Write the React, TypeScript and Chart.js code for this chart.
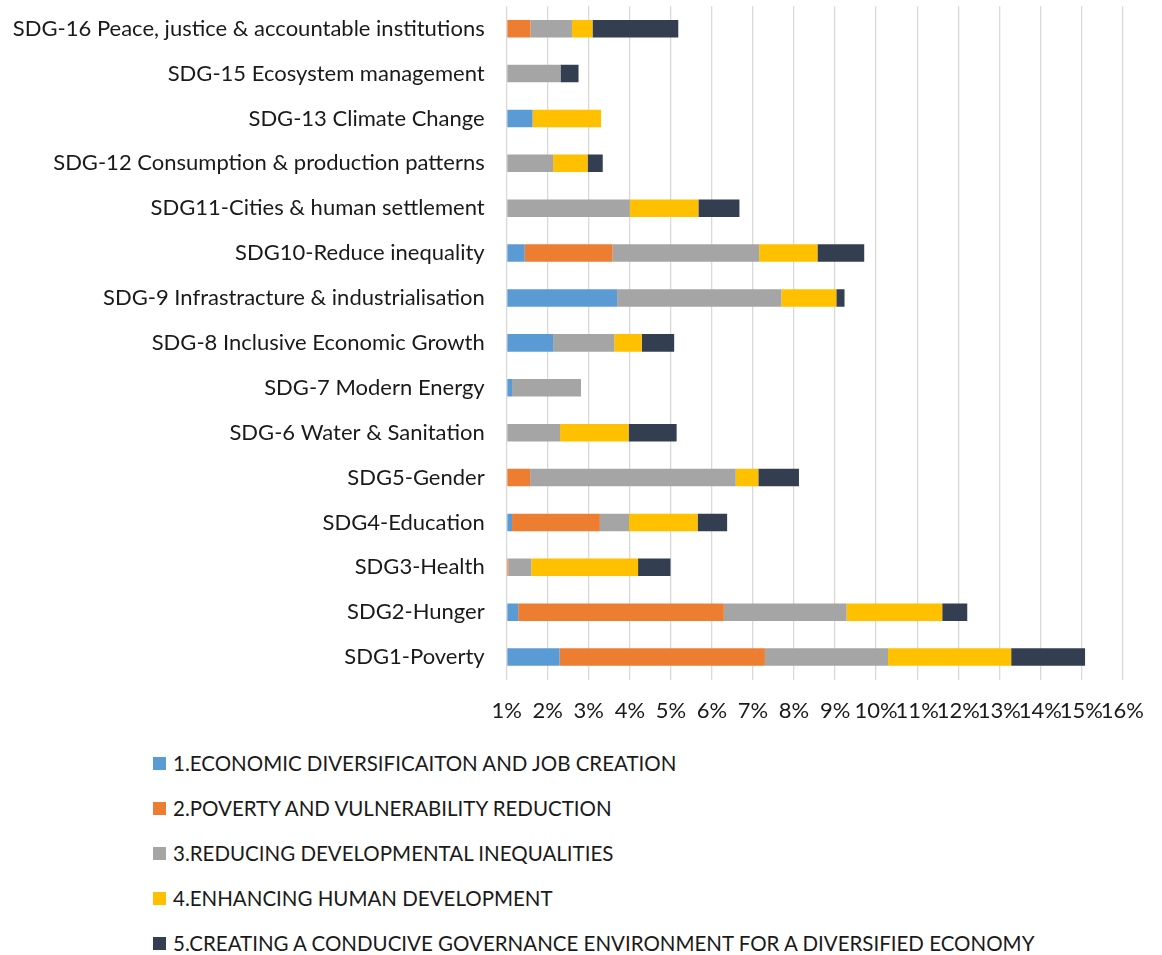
import React, { useEffect, useRef } from 'react';
import { Chart, registerables } from 'chart.js';

Chart.register(...registerables);

const categories = [
  'SDG-16 Peace, justice & accountable institutions',
  'SDG-15 Ecosystem management',
  'SDG-13 Climate Change',
  'SDG-12 Consumption & production patterns',
  'SDG11-Cities & human settlement',
  'SDG10-Reduce inequality',
  'SDG-9 Infrastracture & industrialisation',
  'SDG-8 Inclusive Economic Growth',
  'SDG-7 Modern Energy',
  'SDG-6 Water & Sanitation',
  'SDG5-Gender',
  'SDG4-Education',
  'SDG3-Health',
  'SDG2-Hunger',
  'SDG1-Poverty',
];

const seriesNames = [
  '1.ECONOMIC DIVERSIFICAITON AND JOB CREATION',
  '2.POVERTY AND VULNERABILITY REDUCTION',
  '3.REDUCING DEVELOPMENTAL INEQUALITIES',
  '4.ENHANCING HUMAN DEVELOPMENT',
  '5.CREATING A CONDUCIVE GOVERNANCE ENVIRONMENT FOR A DIVERSIFIED ECONOMY',
];

const economicDiversification = [0, 0, 0.63, 0, 0, 0.44, 2.69, 1.13, 0.13, 0, 0, 0.13, 0, 0.28, 1.29];
const povertyReduction = [0.58, 0, 0, 0, 0, 2.14, 0, 0, 0, 0, 0.57, 2.14, 0.04, 5.01, 5.0];
const reducingInequalities = [1.01, 1.31, 0, 1.13, 3.0, 3.57, 4.0, 1.49, 1.68, 1.3, 5.01, 0.71, 0.56, 2.99, 3.0];
const humanDevelopment = [0.5, 0, 1.67, 0.84, 1.67, 1.42, 1.34, 0.67, 0, 1.67, 0.55, 1.67, 2.6, 2.33, 3.0];
const governanceEnvironment = [2.09, 0.44, 0, 0.37, 1.0, 1.14, 0.2, 0.79, 0, 1.17, 0.99, 0.72, 0.79, 0.61, 1.8];

const tickLabels = ['1%', '2%', '3%', '4%', '5%', '6%', '7%', '8%', '9%', '10%', '11%', '12%', '13%', '14%', '15%', '16%'];

const seriesColors = ['#5B9BD5', '#ED7D31', '#A5A5A5', '#FFC000', '#333F50'];

const FONT = 'Lato';
const TEXT = '#1a1a1a';

export default function App() {
  const ref = useRef<HTMLCanvasElement>(null);

  useEffect(() => {
    const values = [
      economicDiversification,
      povertyReduction,
      reducingInequalities,
      humanDevelopment,
      governanceEnvironment,
    ];
    const chart = new Chart(ref.current as HTMLCanvasElement, {
      type: 'bar',
      data: {
        labels: categories,
        datasets: values.map((d, i) => ({
          label: seriesNames[i],
          data: d,
          backgroundColor: seriesColors[i],
          borderWidth: 0,
          categoryPercentage: 1,
          barPercentage: 0.39,
        })),
      },
      options: {
        indexAxis: 'y',
        responsive: false,
        animation: false,
        devicePixelRatio: 1,
        layout: { padding: { top: 6.25, right: 30, left: 0, bottom: 0 } },
        plugins: {
          legend: { display: false },
          tooltip: { enabled: false },
        },
        scales: {
          x: {
            stacked: true,
            min: 0,
            max: 15,
            grid: { color: '#D9D9D9', lineWidth: 1.3, drawTicks: false },
            border: { display: false },
            ticks: {
              stepSize: 1,
              autoSkip: false,
              maxRotation: 0,
              minRotation: 0,
              padding: 18,
              color: TEXT,
              font: { family: FONT, size: 22 },
              callback: (v: any) => tickLabels[Math.round(Number(v))],
            },
            afterFit: (s: any) => {
              s.height = 60.5;
            },
          },
          y: {
            stacked: true,
            grid: { display: false, drawTicks: false },
            border: { display: false },
            ticks: {
              padding: 22,
              color: TEXT,
              font: { family: FONT, size: 22 },
              autoSkip: false,
            },
            afterFit: (s: any) => {
              s.width = 506.7;
              s.paddingTop = 0;
              s.paddingBottom = 0;
            },
          },
        },
      },
    });
    return () => chart.destroy();
  }, []);

  return (
    <div style={{ position: 'absolute', left: 0, top: 0, width: 1162, height: 955, background: '#fff', fontFamily: FONT }}>
      <canvas ref={ref} width={1162} height={740} style={{ display: 'block', position: 'absolute', left: 0, top: 0 }} />
      {seriesNames.map((name, i) => (
        <div
          key={name}
          style={{
            position: 'absolute',
            left: 153,
            top: 763 + i * 45 - 15,
            height: 30,
            display: 'flex',
            alignItems: 'center',
            whiteSpace: 'nowrap',
            fontSize: 20.5,
            color: TEXT,
          }}
        >
          <span style={{ display: 'inline-block', width: 13, height: 13, background: seriesColors[i], marginRight: 7 }} />
          <span>{name}</span>
        </div>
      ))}
    </div>
  );
}
